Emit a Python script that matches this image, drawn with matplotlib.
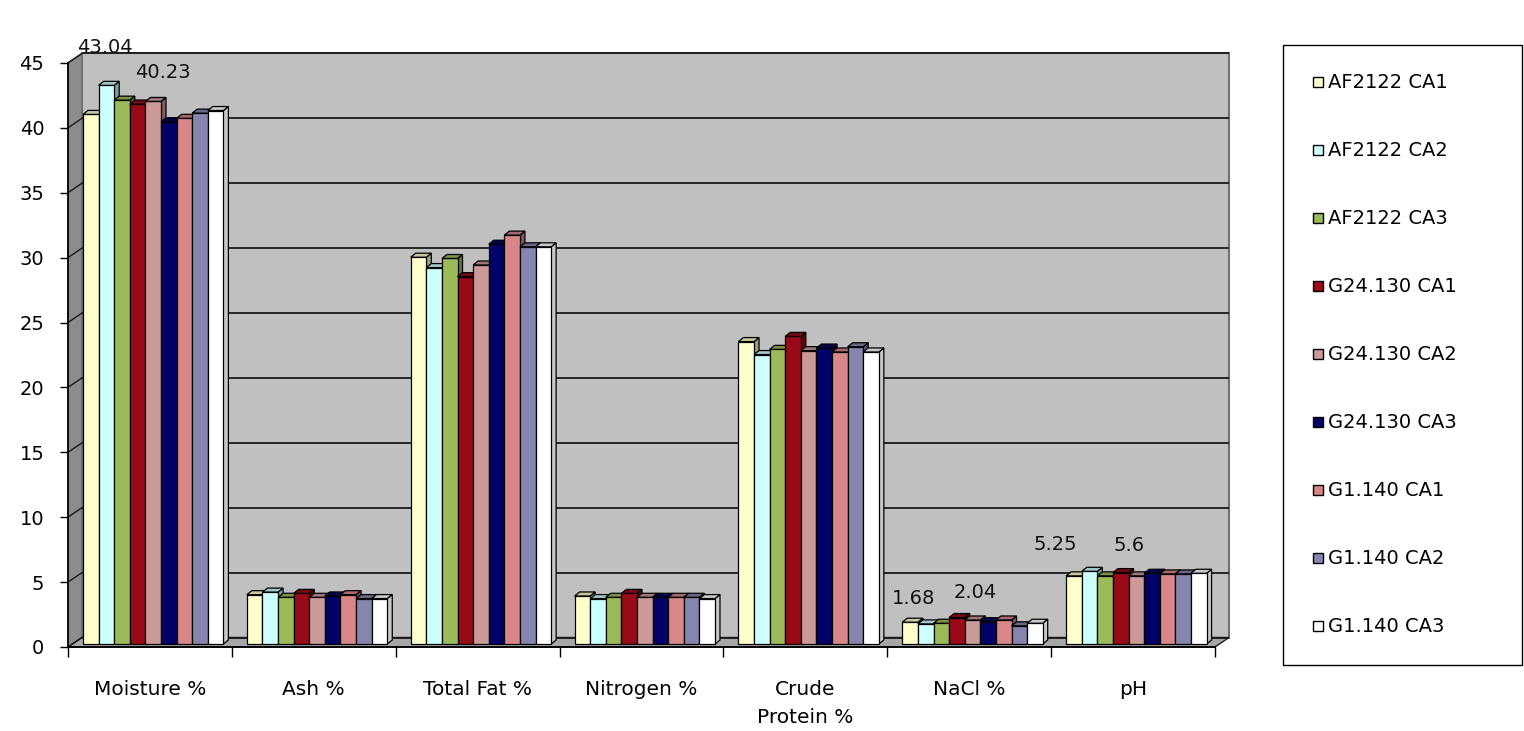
import numpy as np
import matplotlib
matplotlib.use("Agg")
import matplotlib.pyplot as plt
from matplotlib.patches import Polygon
from matplotlib.lines import Line2D
from matplotlib.colors import to_rgb

# ---------------- data ----------------
categories = ["Moisture %", "Ash %", "Total Fat %", "Nitrogen %",
              "Crude\nProtein %", "NaCl %", "pH"]
series_names = ["AF2122 CA1", "AF2122 CA2", "AF2122 CA3",
                "G24.130 CA1", "G24.130 CA2", "G24.130 CA3",
                "G1.140 CA1", "G1.140 CA2", "G1.140 CA3"]
series_colors = ["#FFFFCC", "#CCFFFF", "#9BBB59", "#990A18", "#CC9999",
                 "#000066", "#D98689", "#8585AD", "#FFFFFF"]

af2122_ca1 = [40.8, 3.8, 29.8, 3.7, 23.3, 1.68, 5.25]
af2122_ca2 = [43.04, 4.0, 29.0, 3.5, 22.3, 1.55, 5.6]
af2122_ca3 = [41.9, 3.6, 29.7, 3.6, 22.7, 1.6, 5.25]
g24130_ca1 = [41.6, 3.9, 28.3, 3.9, 23.7, 2.04, 5.5]
g24130_ca2 = [41.8, 3.6, 29.2, 3.6, 22.6, 1.85, 5.25]
g24130_ca3 = [40.23, 3.7, 30.8, 3.6, 22.8, 1.72, 5.45]
g1140_ca1 = [40.5, 3.8, 31.5, 3.6, 22.5, 1.85, 5.4]
g1140_ca2 = [40.9, 3.5, 30.6, 3.6, 22.9, 1.4, 5.4]
g1140_ca3 = [41.1, 3.5, 30.6, 3.5, 22.5, 1.6, 5.45]
series_values = [af2122_ca1, af2122_ca2, af2122_ca3, g24130_ca1, g24130_ca2,
                 g24130_ca3, g1140_ca1, g1140_ca2, g1140_ca3]

y_ticks = [0, 5, 10, 15, 20, 25, 30, 35, 40, 45]

# data labels: (text, category index, series index)
value_labels = [("43.04", 0, 1), ("40.23", 0, 5), ("1.68", 5, 0),
                ("2.04", 5, 3), ("5.25", 6, 0), ("5.6", 6, 1)]
# label offsets in pixels (layout only)
label_offsets = [(-2, 38), (-6, 49), (3, 24), (18, 25), (-19, 31), (40, 26)]

# ---------------- layout ----------------
W, H = 1524, 731
px_x = 163.86      # pixels per category
px_y = 12.98       # pixels per value unit
x_left_px = 68
y0_px = 647
xlim = (-0.5, 6.6)
ylim = (-1.2, 46.6)
right_px = x_left_px + (xlim[1] - xlim[0]) * px_x
top_px = y0_px - ylim[1] * px_y
bottom_px = y0_px - ylim[0] * px_y

plt.rcParams['font.family'] = ['DejaVu Sans']
fig = plt.figure(figsize=(W / 100, H / 100), dpi=100)
fig.patch.set_facecolor("white")
ax = fig.add_axes([x_left_px / W, 1 - bottom_px / H,
                   (right_px - x_left_px) / W, (bottom_px - top_px) / H])
ax.set_xlim(*xlim)
ax.set_ylim(*ylim)
ax.set_facecolor("none")

n_cat = len(categories)
x0, x1 = -0.5, n_cat - 0.5
ymax = y_ticks[-1]
dx = 14 / px_x    # wall depth
dy = 9.5 / px_y

# left wall
ax.add_patch(Polygon([(x0, 0), (x0 + dx, dy), (x0 + dx, ymax + dy), (x0, ymax)],
                     closed=True, facecolor="#8C8C8C", edgecolor="#404040",
                     lw=1.0, zorder=0))
# back wall
ax.add_patch(Polygon([(x0 + dx, dy), (x1 + dx, dy), (x1 + dx, ymax + dy),
                      (x0 + dx, ymax + dy)], closed=True, facecolor="#C0C0C0",
                     edgecolor="#707070", lw=1.5, zorder=0))
# floor
ax.add_patch(Polygon([(x0, 0), (x1, 0), (x1 + dx, dy), (x0 + dx, dy)],
                     closed=True, facecolor="#A6A6A6", edgecolor="#202020",
                     lw=1.0, zorder=0.5))
# gridlines
for t in y_ticks:
    ax.plot([x0 + dx, x1 + dx], [t + dy, t + dy], color="#1a1a1a", lw=1.3,
            zorder=1, solid_capstyle="butt")
    ax.plot([x0, x0 + dx], [t, t + dy], color="#1a1a1a", lw=1.0, zorder=1)

# bars (pseudo 3-D)
bw = 15.6 / px_x
start = 15 / px_x
bar_bottom = 3 / px_y
ddx = 5 / px_x
ddy = 4 / px_y


def shade(c, f):
    r, g, b = to_rgb(c)
    return (r * f, g * f, b * f)


bar_center = {}
z = 3
for ci in range(n_cat):
    for si, (vals, col) in enumerate(zip(series_values, series_colors)):
        v = vals[ci]
        xl = ci - 0.5 + start + si * bw
        xr = xl + bw
        yb = bar_bottom
        yt = bar_bottom + v
        bar_center[(ci, si)] = (xl + bw / 2, yt)
        front = Polygon([(xl, yb), (xr, yb), (xr, yt), (xl, yt)], closed=True,
                        facecolor=col, edgecolor="black", lw=0.9, zorder=z)
        top = Polygon([(xl, yt), (xr, yt), (xr + ddx, yt + ddy), (xl + ddx, yt + ddy)],
                      closed=True, facecolor=shade(col, 0.78), edgecolor="black",
                      lw=0.9, zorder=z)
        side = Polygon([(xr, yb), (xr + ddx, yb + ddy), (xr + ddx, yt + ddy), (xr, yt)],
                       closed=True, facecolor=shade(col, 0.62) if col != "#FFFFFF" else "#C8C8C8",
                       edgecolor="black", lw=0.9, zorder=z - 0.5)
        ax.add_patch(side)
        ax.add_patch(front)
        ax.add_patch(top)
        z += 1

# data labels
for (txt, ci, si), (ox, oy) in zip(value_labels, label_offsets):
    ax.annotate(txt, xy=bar_center[(ci, si)], xytext=(ox, oy),
                textcoords="offset pixels", ha="center", va="center",
                fontsize=14, color="#111111", zorder=200, annotation_clip=False)

# axes
for s in ["top", "right"]:
    ax.spines[s].set_visible(False)
ax.spines["left"].set_bounds(0, ymax)
ax.spines["left"].set_position(("data", x0))
ax.spines["bottom"].set_position(("data", 0))
ax.spines["bottom"].set_bounds(x0, x1)
for s in ["left", "bottom"]:
    ax.spines[s].set_color("black")
    ax.spines[s].set_linewidth(1.3)
    ax.spines[s].set_zorder(300)

ax.set_yticks(y_ticks)
ax.set_yticklabels([str(t) for t in y_ticks])
ax.tick_params(axis="y", direction="out", length=6, width=1.0, pad=11,
               labelsize=14, colors="black")
ax.set_xticks(np.arange(x0, x1 + 0.01, 1.0))
ax.set_xticklabels([])
ax.tick_params(axis="x", which="major", direction="out", length=7, width=1.0)
ax.set_xticks(np.arange(n_cat), minor=True)
ax.set_xticklabels(categories, minor=True, fontsize=14.5, linespacing=1.55)
ax.tick_params(axis="x", which="minor", length=0, pad=24)

# legend
handles = [Line2D([], [], marker="s", linestyle="none", markersize=7,
                  markerfacecolor=c, markeredgecolor="black", markeredgewidth=1.0)
           for c in series_colors]
leg = fig.legend(handles, series_names, loc="upper left",
                 bbox_to_anchor=(1283 / W, 1 - 668 / H, (1522 - 1283) / W, (668 - 45) / H),
                 mode="expand", borderaxespad=0, frameon=True, fancybox=False,
                 edgecolor="black", framealpha=1, fontsize=14,
                 handlelength=0.7, handletextpad=0.15, labelspacing=2.52,
                 borderpad=1.46)
leg.get_frame().set_linewidth(1.0)

fig.savefig("out.png", dpi=100)
